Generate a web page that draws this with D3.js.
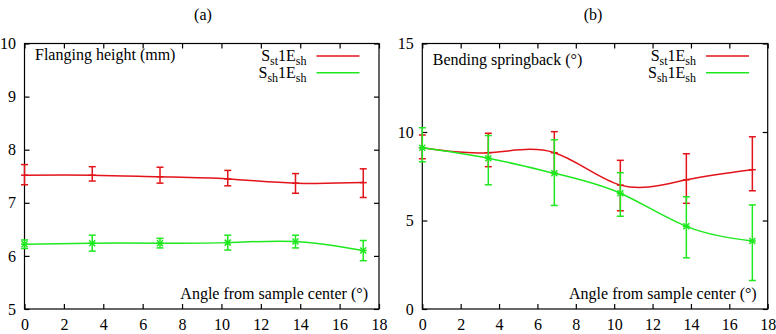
<!DOCTYPE html>
<html><head><meta charset="utf-8">
<script src="https://cdn.jsdelivr.net/npm/d3@7"></script>
<style>body{margin:0;background:#fff}svg{display:block}svg text{font-family:'Liberation Serif','Tinos','Times New Roman','DejaVu Serif',serif !important}</style>
</head><body><svg id="c" width="776" height="334"></svg>
<script>
// ---- data ----
const angles = [0, 3.44, 6.88, 10.32, 13.76, 17.2];
const xTicks = [0, 2, 4, 6, 8, 10, 12, 14, 16, 18];
// (a) flanging height (mm)
const flangeStMean = [7.52, 7.52, 7.49, 7.45, 7.37, 7.38];
const flangeStLow  = [7.34, 7.41, 7.37, 7.32, 7.18, 7.10];
const flangeStHigh = [7.72, 7.68, 7.67, 7.61, 7.55, 7.64];
const flangeShMean = [6.22, 6.24, 6.24, 6.25, 6.27, 6.10];
const flangeShLow  = [6.14, 6.09, 6.15, 6.11, 6.15, 5.91];
const flangeShHigh = [6.30, 6.39, 6.33, 6.39, 6.39, 6.29];
const flangeYTicks = [5, 6, 7, 8, 9, 10];
// (b) bending springback (deg)
const springStMean = [9.11, 8.83, 8.83, 7.00, 7.30, 7.87];
const springStLow  = [8.49, 8.04, 7.66, 5.55, 5.97, 6.68];
const springStHigh = [9.83, 9.93, 10.02, 8.40, 8.77, 9.73];
const springShMean = [9.11, 8.52, 7.67, 6.54, 4.67, 3.84];
const springShLow  = [8.32, 7.02, 5.85, 5.24, 2.89, 1.61];
const springShHigh = [10.24, 9.80, 9.56, 7.70, 6.34, 5.88];
const springYTicks = [0, 5, 10, 15];
const seriesNames = [["S","st","1E","sh"], ["S","sh","1E","sh"]];
const colors = ["#e2141a", "#1ee81e"];

const FONT = "'Liberation Serif','Tinos','Times New Roman','DejaVu Serif',serif";
const svg = d3.select("#c").attr("font-family", FONT);

function panel(o) {
  const g = svg.append("g");
  const x = d3.scaleLinear().domain([0, 18]).range([o.left, o.right]);
  const y = d3.scaleLinear().domain(o.yDomain).range([o.bottom, o.top]);
  const tl = 5;
  g.append("rect").attr("x", o.left).attr("y", o.top)
    .attr("width", o.right - o.left).attr("height", o.bottom - o.top)
    .attr("fill", "none").attr("stroke", "#000").attr("stroke-width", 1.2);
  const xb = g.append("g").attr("transform", `translate(0,${o.bottom})`)
    .call(d3.axisBottom(x).tickValues(xTicks).tickSize(-tl).tickPadding(10).tickFormat(d3.format("d")));
  const xt = g.append("g").attr("transform", `translate(0,${o.top})`)
    .call(d3.axisTop(x).tickValues(xTicks).tickSize(-tl).tickFormat(""));
  const yl = g.append("g").attr("transform", `translate(${o.left},0)`)
    .call(d3.axisLeft(y).tickValues(o.yTicks).tickSize(-tl).tickPadding(8.5).tickFormat(d3.format("d")));
  const yr = g.append("g").attr("transform", `translate(${o.right},0)`)
    .call(d3.axisRight(y).tickValues(o.yTicks).tickSize(-tl).tickFormat(""));
  [xb, xt, yl, yr].forEach(a => {
    a.attr("font-family", FONT).attr("font-size", 16);
    a.select(".domain").remove();
    a.selectAll("line").attr("stroke", "#000").attr("stroke-width", 1.2);
    a.selectAll("text").attr("fill", "#000");
  });
  o.series.forEach((s, k) => {
    const c = colors[k];
    const data = angles.map((a, i) => ({a, m: s.mean[i], lo: s.low[i], hi: s.high[i]}));
    const line = d3.line().x(d => x(d.a)).y(d => y(d.m)).curve(d3.curveNatural);
    g.append("path").datum(data).attr("d", line).attr("fill", "none")
      .attr("stroke", c).attr("stroke-width", 1.5);
    const eb = g.append("g").attr("stroke", c).attr("stroke-width", 1.5);
    data.forEach(d => {
      const px = x(d.a);
      eb.append("line").attr("x1", px).attr("x2", px).attr("y1", y(d.lo)).attr("y2", y(d.hi));
      eb.append("line").attr("x1", px - 3.5).attr("x2", px + 3.5).attr("y1", y(d.lo)).attr("y2", y(d.lo));
      eb.append("line").attr("x1", px - 3.5).attr("x2", px + 3.5).attr("y1", y(d.hi)).attr("y2", y(d.hi));
      const py = y(d.m);
      eb.append("line").attr("x1", px - 3.5).attr("x2", px + 3.5).attr("y1", py).attr("y2", py);
      if (k === 1) {
        eb.append("line").attr("x1", px - 3).attr("x2", px + 3).attr("y1", py - 3).attr("y2", py + 3);
        eb.append("line").attr("x1", px - 3).attr("x2", px + 3).attr("y1", py + 3).attr("y2", py - 3);
      }
    });
  });
  seriesNames.forEach((n, k) => {
    const ly = o.top + 12.5 + k * 16.7;
    const t = g.append("text").attr("x", o.legendX).attr("y", ly + 5)
      .attr("text-anchor", "end").attr("font-size", 16);
    t.append("tspan").text(n[0]);
    t.append("tspan").text(n[1]).attr("font-size", 12).attr("dy", 4);
    t.append("tspan").text(n[2]).attr("dy", -4);
    t.append("tspan").text(n[3]).attr("font-size", 12).attr("dy", 4);
    g.append("line").attr("x1", o.legendX + 10).attr("x2", o.legendX + 53)
      .attr("y1", ly).attr("y2", ly).attr("stroke", colors[k]).attr("stroke-width", 1.5);
  });
  g.append("text").attr("x", o.left + 10.5).attr("y", o.titleY).text(o.ylabel).attr("font-size", 16);
  g.append("text").attr("x", o.right - 11).attr("y", o.bottom - 10.5).attr("text-anchor", "end")
    .text("Angle from sample center (°)").attr("font-size", 16);
  g.append("text").attr("x", o.capX).attr("y", 20).attr("text-anchor", "middle")
    .text(o.cap).attr("font-size", 16);
}

panel({left: 24.5, right: 379, top: 43.5, bottom: 309, yDomain: [5, 10], yTicks: flangeYTicks,
  legendX: 306.5, titleY: 60, ylabel: "Flanging height (mm)", cap: "(a)", capX: 203,
  series: [{mean: flangeStMean, low: flangeStLow, high: flangeStHigh},
           {mean: flangeShMean, low: flangeShLow, high: flangeShHigh}]});
panel({left: 422.3, right: 767.7, top: 43.5, bottom: 309, yDomain: [0, 15], yTicks: springYTicks,
  legendX: 696, titleY: 65, ylabel: "Bending springback (°)", cap: "(b)", capX: 593,
  series: [{mean: springStMean, low: springStLow, high: springStHigh},
           {mean: springShMean, low: springShLow, high: springShHigh}]});
</script></body></html>
